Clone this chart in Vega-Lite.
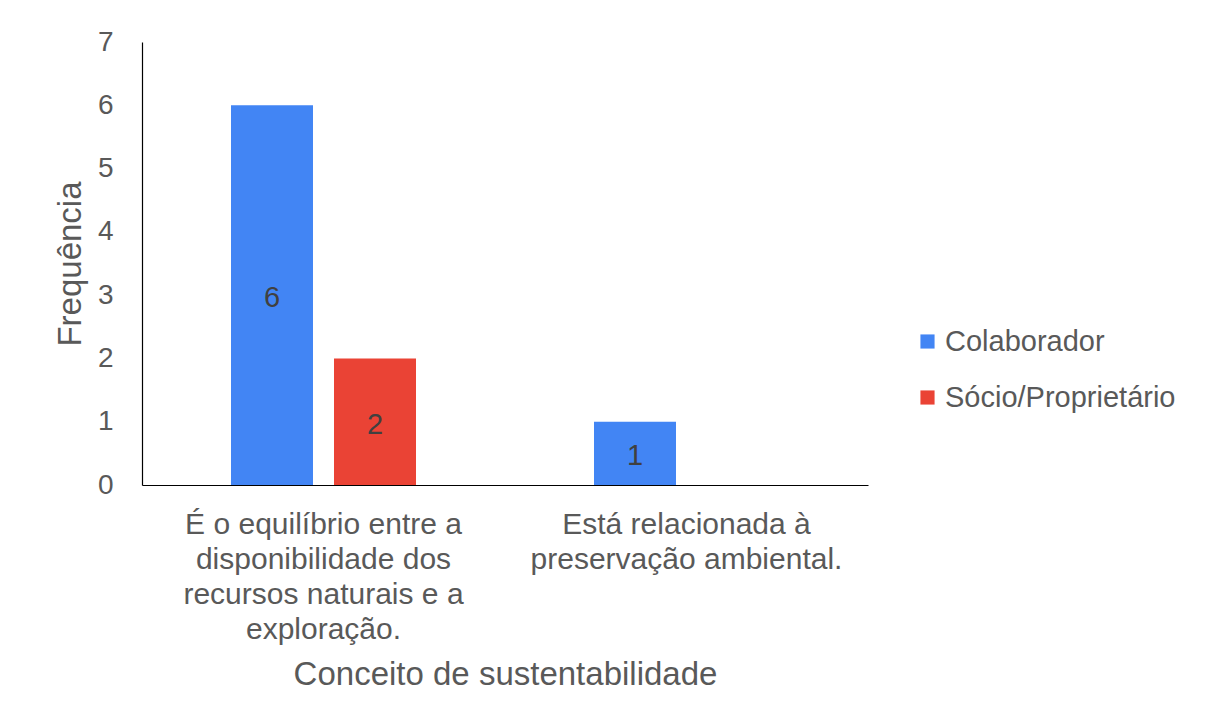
{
  "$schema": "https://vega.github.io/schema/vega-lite/v6.json",
  "autosize": {"type": "none"},
  "width": 726,
  "height": 443,
  "padding": {"left": 142, "top": 42, "right": 348, "bottom": 241},
  "background": "white",
  "config": {
    "view": {"stroke": null},
    "font": "Liberation Sans",
    "axis": {"grid": false, "ticks": false, "domainColor": "#000000", "domainWidth": 1.2, "labelColor": "#595959", "titleColor": "#595959", "labelFont": "Liberation Sans", "titleFont": "Liberation Sans", "titleFontWeight": "normal"},
    "legend": {"labelFont": "Liberation Sans", "labelColor": "#595959"}
  },
  "data": {
    "values": [
      {"conceito": "É o equilíbrio entre a disponibilidade dos recursos naturais e a exploração.", "grupo": "Colaborador", "frequencia": 6},
      {"conceito": "É o equilíbrio entre a disponibilidade dos recursos naturais e a exploração.", "grupo": "Sócio/Proprietário", "frequencia": 2},
      {"conceito": "Está relacionada à preservação ambiental.", "grupo": "Colaborador", "frequencia": 1},
      {"conceito": "Está relacionada à preservação ambiental.", "grupo": "Sócio/Proprietário", "frequencia": 0}
    ]
  },
  "encoding": {
    "x": {
      "field": "conceito", "type": "nominal", "sort": null,
      "scale": {"paddingInner": 0, "paddingOuter": 0},
      "title": "Conceito de sustentabilidade",
      "axis": {
        "labelAngle": 0, "labelFontSize": 30, "labelLineHeight": 35, "labelPadding": 24, "labelLimit": 400,
        "labelExpr": "indexof(datum.label, 'equil') >= 0 ? ['É o equilíbrio entre a', 'disponibilidade dos', 'recursos naturais e a', 'exploração.'] : ['Está relacionada à', 'preservação ambiental.']",
        "titleFontSize": 33, "titlePadding": 14
      }
    },
    "xOffset": {"field": "grupo", "type": "nominal", "scale": {"paddingInner": 0.204, "paddingOuter": 0.864}},
    "y": {
      "field": "frequencia", "type": "quantitative",
      "scale": {"domain": [0, 7], "nice": false},
      "title": "Frequência",
      "axis": {"values": [0, 1, 2, 3, 4, 5, 6, 7], "labelFontSize": 28, "labelPadding": 29, "titleFontSize": 33, "titlePadding": 10}
    }
  },
  "layer": [
    {
      "mark": {"type": "bar"},
      "encoding": {
        "color": {
          "field": "grupo", "type": "nominal",
          "scale": {"domain": ["Colaborador", "Sócio/Proprietário"], "range": ["#4285F4", "#EA4335"]},
          "legend": {"title": null, "orient": "none", "legendX": 771, "legendY": 285, "symbolType": "square", "symbolSize": 200, "symbolStrokeWidth": 0, "labelFontSize": 29, "labelLimit": 400, "rowPadding": 26, "labelOffset": 3, "symbolOpacity": 1}
        }
      }
    },
    {
      "transform": [{"filter": "datum.frequencia > 0"}, {"calculate": "datum.frequencia / 2", "as": "meio"}],
      "mark": {"type": "text", "fontSize": 29, "color": "#404040", "baseline": "middle", "align": "center", "dy": 3},
      "encoding": {
        "y": {"field": "meio", "type": "quantitative"},
        "text": {"field": "frequencia", "type": "quantitative"}
      }
    }
  ]
}
